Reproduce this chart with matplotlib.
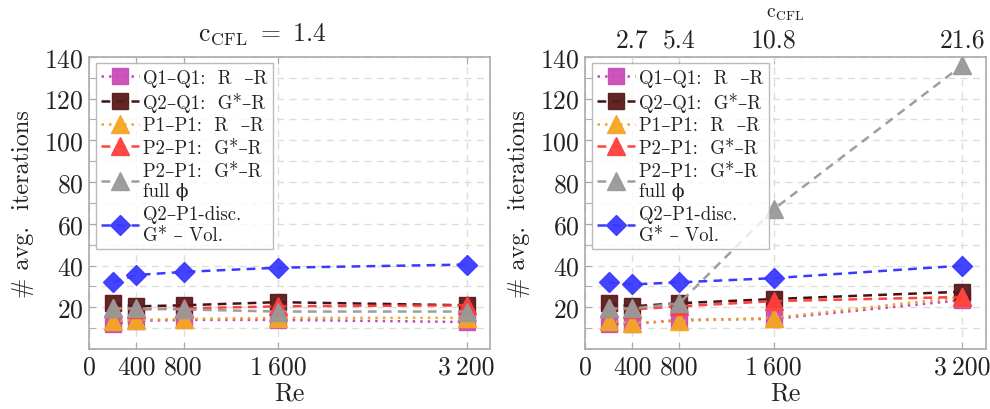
import matplotlib
matplotlib.use('Agg')
import matplotlib.pyplot as plt
from matplotlib.ticker import FixedLocator, MultipleLocator, FuncFormatter

plt.rcParams['font.family'] = ['cmr10', 'DejaVu Serif']
plt.rcParams['mathtext.fontset'] = 'cm'
plt.rcParams['axes.formatter.use_mathtext'] = True
plt.rcParams['axes.unicode_minus'] = False

# Reynolds numbers and CFL numbers on the top axis
re = [200, 400, 800, 1600, 3200]
re_ticks = [0, 400, 800, 1600, 3200]
cfl_ticks = [400, 800, 1600, 3200]
cfl_labels = ['2.7', '5.4', '10.8', '21.6']

# average iterations, fixed c_CFL = 1.4
q1q1_fixed = [12, 13.5, 14, 14, 13]
q2q1_fixed = [22, 20.5, 21, 22.5, 21]
p1p1_fixed = [13.5, 14, 14.5, 15, 15]
p2p1_fixed = [19.5, 19, 19.5, 20.5, 21]
p2p1_full_fixed = [19.5, 19.5, 19, 18, 18]
q2p1_fixed = [32, 35.5, 37, 39, 40.5]

# average iterations, growing c_CFL
q1q1_var = [12, 12, 14, 14.5, 23.5]
q2q1_var = [22, 20.5, 22, 24, 27.5]
p1p1_var = [13.5, 12.5, 13.5, 15, 25]
p2p1_var = [19.5, 19, 20.5, 23, 25]
p2p1_full_var = [19.5, 19.5, 22, 67, 136]
q2p1_var = [32, 31, 32, 34, 40]

# plain text only (cmr10 has no en dash inside mathtext); '*' sits raised in cmr10
labels = ['Q1–Q1:  R  –R',
          'Q2–Q1:  G*–R',
          'P1–P1:  R  –R',
          'P2–P1:  G*–R',
          'P2–P1:  G*–R\nfull ϕ',
          'Q2–P1-disc.\nG* – Vol.']

dashed = (0, (3.5, 2.5))
dotted = (0, (1, 2))
styles = [
    dict(color='#c040b0', ls=dotted, marker='s', ms=11, mfc='#c84cb8'),
    dict(color='#3a0505', ls=dashed, marker='s', ms=11, mfc='#5a1a1a'),
    dict(color='#f0a020', ls=dotted, marker='^', ms=13, mfc='#f5a623'),
    dict(color='#ff3838', ls=dashed, marker='^', ms=13, mfc='#ff4040'),
    dict(color='#999999', ls=dashed, marker='^', ms=13, mfc='#999999'),
    dict(color='#3030ff', ls=dashed, marker='D', ms=10, mfc='#3a3aff'),
]

txt = '#222222'
spine = '#aaaaaa'
fs = 18.5


def re_fmt(v, pos):
    v = int(round(v))
    if v >= 1000:
        return '%d\u2009%03d' % (v // 1000, v % 1000)
    return str(v)


def setup(ax):
    ax.set_xlim(0, 3400)
    ax.set_ylim(0, 140)
    ax.xaxis.set_major_locator(FixedLocator(re_ticks))
    ax.xaxis.set_major_formatter(FuncFormatter(re_fmt))
    ax.yaxis.set_minor_locator(MultipleLocator(10))
    ax.set_yticks([20, 40, 60, 80, 100, 120, 140])
    ax.tick_params(direction='in', which='both', colors=spine, labelcolor=txt,
                   labelsize=fs, length=5, pad=4, top=True, right=False)
    ax.grid(True, which='both', color='#dddddd', ls=(0, (5, 4)), lw=1.0)
    for s in ax.spines.values():
        s.set_color(spine)
        s.set_linewidth(1.2)
    ax.set_xlabel('Re', fontsize=fs, color=txt, labelpad=2)
    ax.set_ylabel('# avg.  iterations', fontsize=17.5, color=txt, labelpad=7)


fig = plt.figure(figsize=(9.9, 4.1), dpi=100)
ax1 = fig.add_axes([0.0902, 0.146, 0.405, 0.713])
ax2 = fig.add_axes([0.591, 0.146, 0.405, 0.713])

series1 = [q1q1_fixed, q2q1_fixed, p1p1_fixed, p2p1_fixed, p2p1_full_fixed, q2p1_fixed]
series2 = [q1q1_var, q2q1_var, p1p1_var, p2p1_var, p2p1_full_var, q2p1_var]

for ax, series in [(ax1, series1), (ax2, series2)]:
    setup(ax)
    for y, lab, st in zip(series, labels, styles):
        ax.plot(re, y, label=lab, lw=1.8, mec=st['mfc'], alpha=0.95, **st)
    leg = ax.legend(loc='upper left', fontsize=13.5, frameon=True, fancybox=False,
                    edgecolor=spine, handlelength=2.0, handletextpad=0.2,
                    borderpad=0.3, labelspacing=0.25, borderaxespad=0.35)
    leg.get_frame().set_linewidth(1.0)
    for t in leg.get_texts():
        t.set_color(txt)

ax1.text(0.43, 1.08, '$\\mathrm{c}_{\\mathrm{CFL}}\\ =\\ 1.4$', transform=ax1.transAxes,
         ha='center', va='center', fontsize=fs, color=txt)

# top axis with CFL numbers
top = ax2.secondary_xaxis('top')
top.xaxis.set_major_locator(FixedLocator(cfl_ticks))
top.set_xticklabels(cfl_labels)
top.tick_params(direction='in', colors=spine, labelcolor=txt, labelsize=fs, length=5, pad=4)
top.spines['top'].set_visible(False)
ax2.tick_params(top=False)
ax2.text(0.5, 1.15, '$\\mathrm{c}_{\\mathrm{CFL}}$', transform=ax2.transAxes,
         ha='center', va='center', fontsize=14, color=txt)

fig.savefig('out.png', dpi=100)
